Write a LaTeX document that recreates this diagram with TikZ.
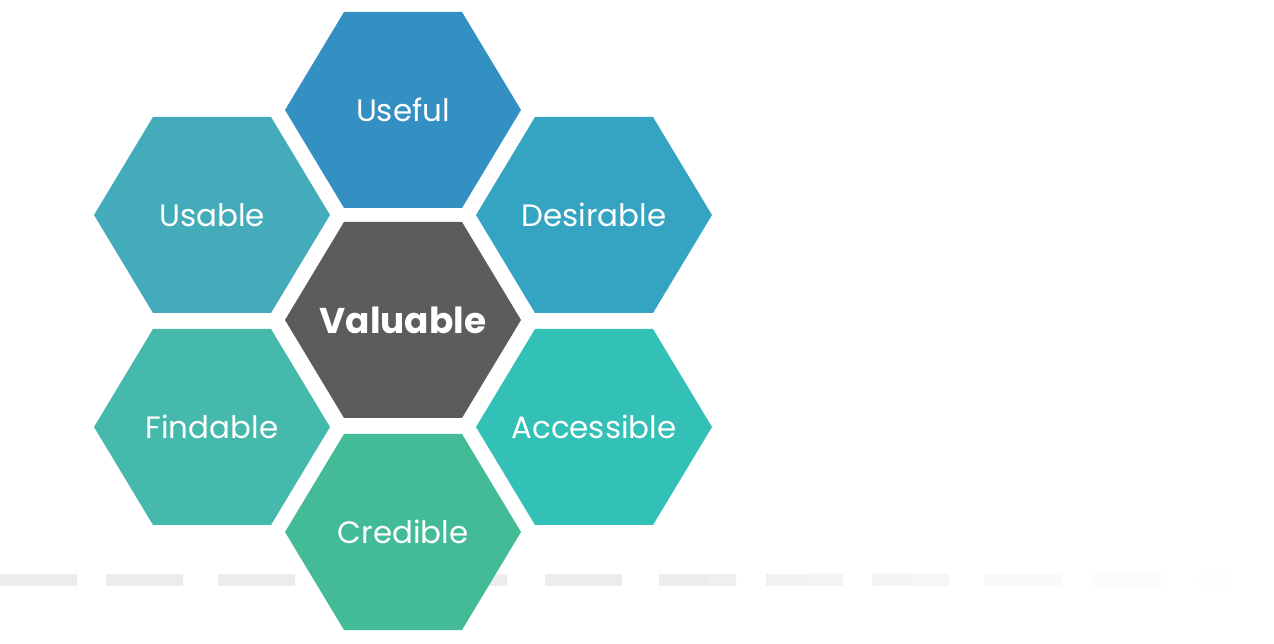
\documentclass[tikz,border=0pt]{standalone}
\usepackage{fontspec}
\setmainfont{Poppins}
\definecolor{cuseful}{HTML}{3490C3}
\definecolor{cdesirable}{HTML}{35A4C2}
\definecolor{cusable}{HTML}{43ABBA}
\definecolor{cfindable}{HTML}{44B9AC}
\definecolor{caccessible}{HTML}{33C0B6}
\definecolor{ccredible}{HTML}{43BB97}
\definecolor{cvaluable}{HTML}{5C5C5C}
\definecolor{dashgray}{HTML}{ECECEC}
\tikzset{
    hexlabel/.style={text=white,inner sep=0pt,font=\fontsize{17.6}{21}\selectfont},
    corelabel/.style={text=white,inner sep=0pt,font=\fontsize{20.4}{24}\selectfont\bfseries},
}

\begin{document}
\begin{tikzpicture}[x=0.02cm,y=-0.02cm]
\useasboundingbox (0,0) rectangle (1274,644);

% dashed base line, fading out to the right
\begin{scope}
\clip \foreach \x in {0,106,218,324,430,545,659,766,872,984,1091,1198} {(\x,574) rectangle ++(77,12)};
\fill[dashgray] (0,574) rectangle (709,586);
\shade[left color=dashgray!80!white,right color=white] (709,574) rectangle (1250,586);
\end{scope}

\fill[cuseful] (403,110) ++(-118,0) -- ++(59,-98) -- ++(118,0) -- ++(59,98) -- ++(-59,98) -- ++(-118,0) -- cycle;
\node (useful) at (403,110) [hexlabel] {Useful};
\fill[cusable] (212,215) ++(-118,0) -- ++(59,-98) -- ++(118,0) -- ++(59,98) -- ++(-59,98) -- ++(-118,0) -- cycle;
\node (usable) at (212,215) [hexlabel] {Usable};
\fill[cdesirable] (594,215) ++(-118,0) -- ++(59,-98) -- ++(118,0) -- ++(59,98) -- ++(-59,98) -- ++(-118,0) -- cycle;
\node (desirable) at (594,215) [hexlabel] {Desirable};
\fill[cvaluable] (403,320) ++(-118,0) -- ++(59,-98) -- ++(118,0) -- ++(59,98) -- ++(-59,98) -- ++(-118,0) -- cycle;
\node (valuable) at (403,320) [corelabel] {Valuable};
\fill[cfindable] (212,427) ++(-118,0) -- ++(59,-98) -- ++(118,0) -- ++(59,98) -- ++(-59,98) -- ++(-118,0) -- cycle;
\node (findable) at (212,427) [hexlabel] {Findable};
\fill[caccessible] (594,427) ++(-118,0) -- ++(59,-98) -- ++(118,0) -- ++(59,98) -- ++(-59,98) -- ++(-118,0) -- cycle;
\node (accessible) at (594,427) [hexlabel] {Accessible};
\fill[ccredible] (403,532) ++(-118,0) -- ++(59,-98) -- ++(118,0) -- ++(59,98) -- ++(-59,98) -- ++(-118,0) -- cycle;
\node (credible) at (403,532) [hexlabel] {Credible};

\end{tikzpicture}
\end{document}
